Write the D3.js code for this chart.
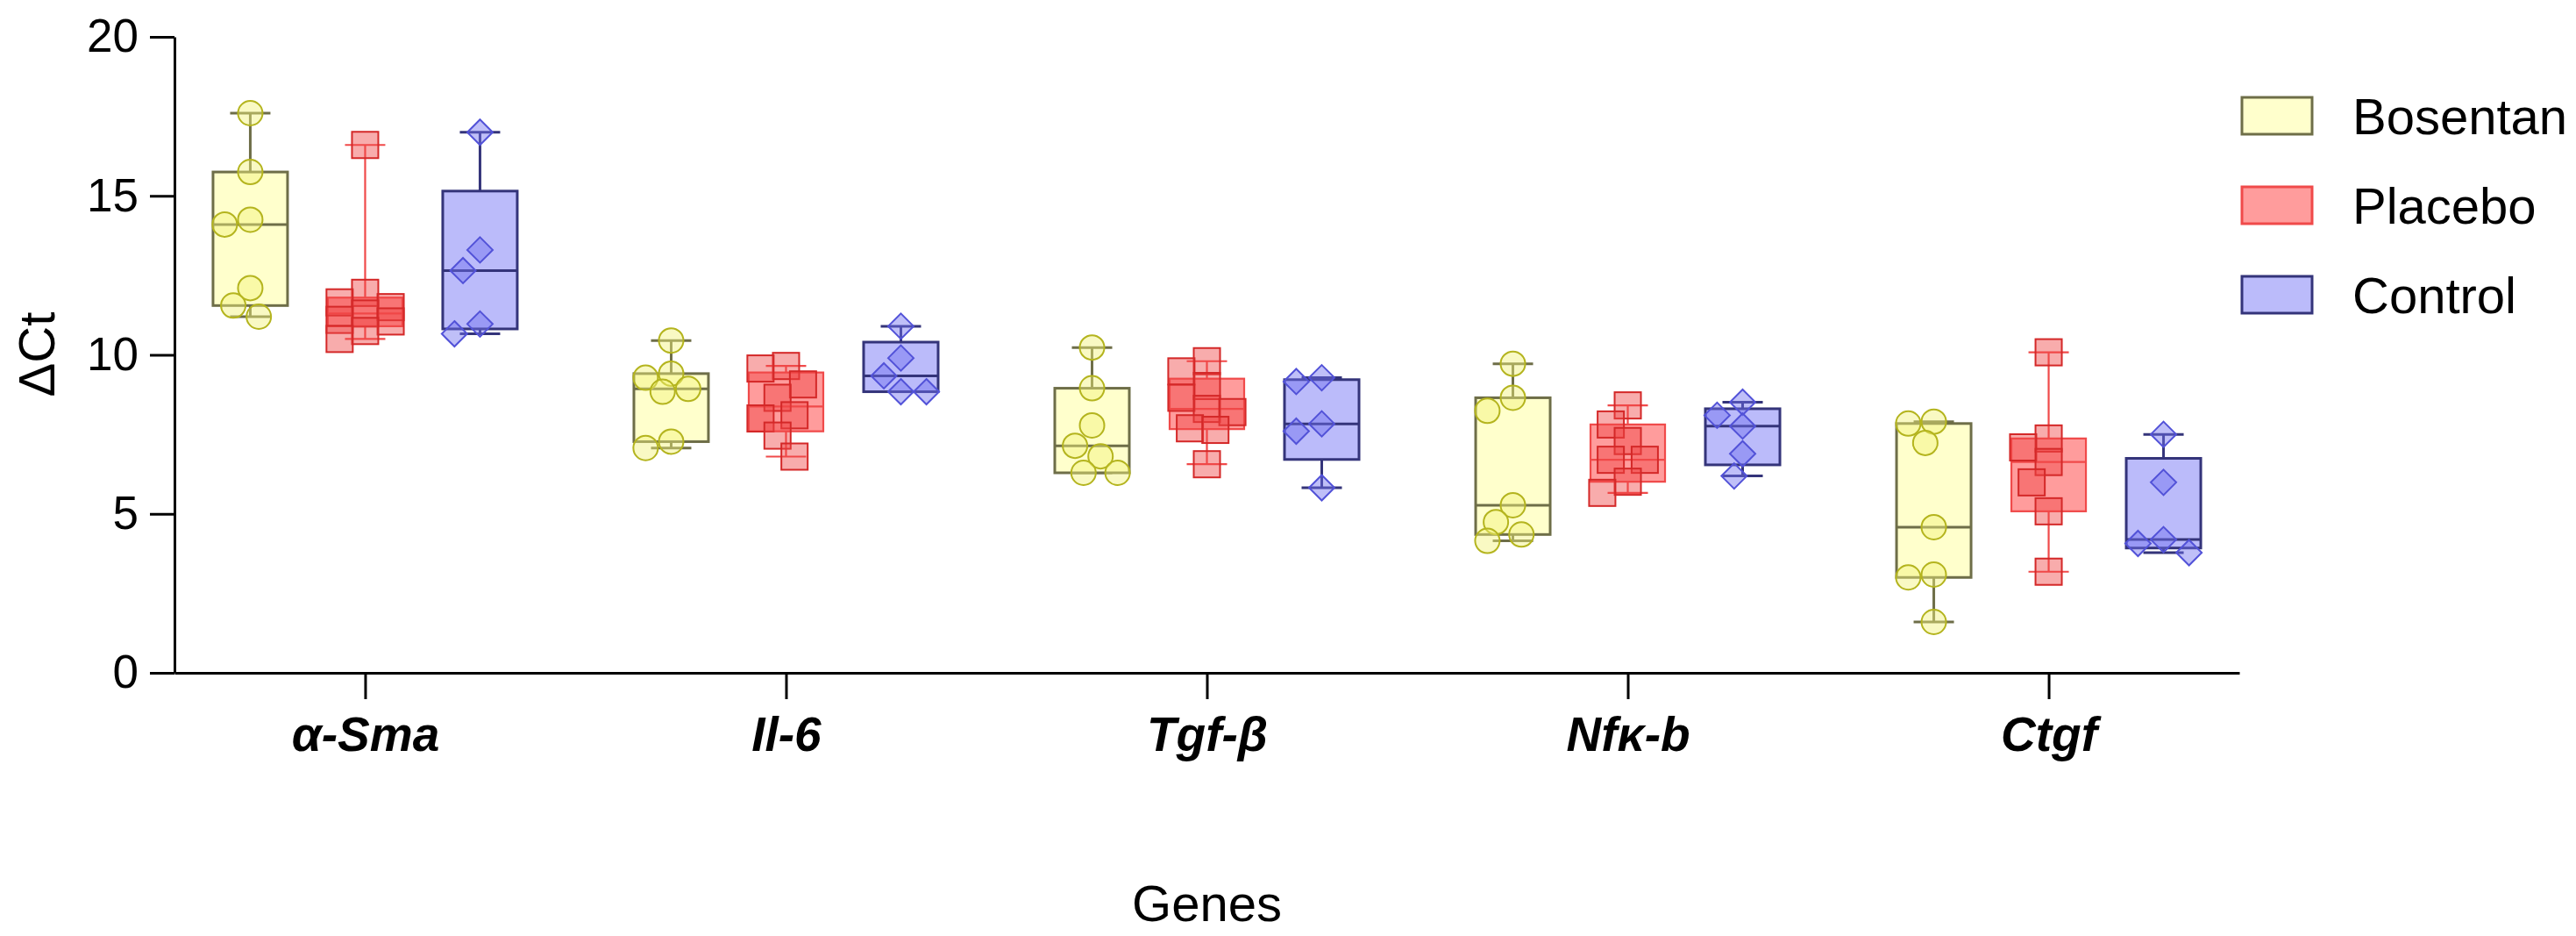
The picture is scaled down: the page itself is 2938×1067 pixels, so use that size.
<!DOCTYPE html>
<html>
<head>
<meta charset="utf-8">
<script src="https://cdn.jsdelivr.net/npm/d3@7"></script>
<style>
    body { margin: 0; background: #fff; }
    text { font-family: "Liberation Sans", Arial, Helvetica, sans-serif; }
</style>
</head>
<body>
<div id="chart-area"></div>
<script>
// genes on the x axis
var genes = ["α-Sma", "Il-6", "Tgf-β", "Nfκ-b", "Ctgf"];
var groups = ["Bosentan", "Placebo", "Control"];
var yTicks = [0, 5, 10, 15, 20];

// ΔCt values per gene (same order as genes)
var bosentan = [
    [17.6, 15.75, 14.25, 14.1, 12.1, 11.55, 11.2],
    [10.45, 9.41, 9.28, 8.93, 8.84, 7.27, 7.07],
    [10.23, 8.95, 7.78, 7.14, 6.81, 6.29, 6.29],
    [9.72, 8.65, 8.24, 5.27, 4.74, 4.35, 4.15],
    [7.9, 7.84, 7.23, 4.58, 3.09, 3.0, 1.6]
];
var placebo = [
    [16.6, 11.95, 11.65, 11.5, 11.3, 11.1, 11.05, 10.75, 10.5],
    [9.65, 9.57, 9.07, 8.65, 8.1, 8.0, 7.46, 6.8],
    [9.8, 9.48, 9.02, 8.65, 8.3, 8.2, 7.69, 7.64, 6.56],
    [8.41, 7.81, 7.29, 6.7, 6.7, 6.01, 5.66],
    [10.08, 7.37, 7.09, 6.63, 5.99, 5.08, 3.18]
];
var control = [
    [17.0, 13.3, 12.65, 10.97, 10.66],
    [10.9, 9.9, 9.34, 8.84, 8.84],
    [9.28, 9.16, 7.83, 7.6, 5.82],
    [8.51, 8.1, 7.76, 6.89, 6.19],
    [7.5, 5.99, 4.19, 4.07, 3.78]
];

var seriesData = [bosentan, placebo, control];

var styles = [
    { boxFill: "#ffffcc", boxStroke: "#6e6e48", lineW: 3, mStroke: "#b4b41e", mFill: "#f2f27a", shape: "circle" },
    { boxFill: "#ff9c9c", boxStroke: "#f04a4a", lineW: 2.2, mStroke: "#d42828", mFill: "#f04848", shape: "square" },
    { boxFill: "#bbbbfa", boxStroke: "#34347a", lineW: 3, mStroke: "#5252d8", mFill: "#7070f0", shape: "diamond" }
];

var W = 2938, H = 1067;

var svg = d3.select("#chart-area")
    .append("svg")
        .attr("width", W)
        .attr("height", H);

var x = d3.scalePoint()
    .domain(genes)
    .range([199, 2554])
    .padding(0.453);

var offset = d3.scalePoint()
    .domain(groups)
    .range([-131, 131]);

var y = d3.scaleLinear()
    .domain([0, 20])
    .range([767, 42]);

var boxW = 85;

// quartiles the way Prism computes them
function quant(sorted, p) {
    var n = sorted.length;
    var pos = p * (n + 1);
    if (pos <= 1) return sorted[0];
    if (pos >= n) return sorted[n - 1];
    var lo = Math.floor(pos), f = pos - lo;
    return sorted[lo - 1] + f * (sorted[lo] - sorted[lo - 1]);
}

// simple scatter spread so points don't sit right on top of each other
function spread(vals, minD, step) {
    var order = vals.slice().sort(function(a, b){ return b - a; });
    var placed = [];
    var ks = [0, -1, 1, -2, 2, -3, 3];
    order.forEach(function(v) {
        var py = y(v), best = null, bestCost = Infinity;
        for (var i = 0; i < ks.length; i++) {
            var dx = ks[i] * step, cost = 0;
            placed.forEach(function(p) {
                var d = Math.sqrt((p.dx - dx) * (p.dx - dx) + (p.py - py) * (p.py - py));
                if (d < minD) cost += (minD - d);
            });
            if (cost < bestCost - 0.01) { bestCost = cost; best = dx; }
            if (cost === 0) break;
        }
        placed.push({ v: v, dx: best, py: py });
    });
    return placed;
}

var plot = svg.append("g");

genes.forEach(function(gene, gi) {
    groups.forEach(function(grp, si) {
        var st = styles[si];
        var vals = seriesData[si][gi];
        var s = vals.slice().sort(d3.ascending);
        var cx = x(gene) + offset(grp);
        var q1 = quant(s, 0.25), med = quant(s, 0.5), q3 = quant(s, 0.75);
        var lo = s[0], hi = s[s.length - 1];
        var g = plot.append("g");

        // whiskers
        g.append("line")
            .attr("x1", cx).attr("x2", cx)
            .attr("y1", y(hi)).attr("y2", y(q3))
            .attr("stroke", st.boxStroke).attr("stroke-width", st.lineW);
        g.append("line")
            .attr("x1", cx).attr("x2", cx)
            .attr("y1", y(q1)).attr("y2", y(lo))
            .attr("stroke", st.boxStroke).attr("stroke-width", st.lineW);
        [hi, lo].forEach(function(v) {
            g.append("line")
                .attr("x1", cx - 23).attr("x2", cx + 23)
                .attr("y1", y(v)).attr("y2", y(v))
                .attr("stroke", st.boxStroke).attr("stroke-width", st.lineW);
        });

        // box + median
        g.append("rect")
            .attr("x", cx - boxW / 2)
            .attr("y", y(q3))
            .attr("width", boxW)
            .attr("height", y(q1) - y(q3))
            .attr("fill", st.boxFill)
            .attr("stroke", st.boxStroke)
            .attr("stroke-width", st.lineW);
        g.append("line")
            .attr("x1", cx - boxW / 2).attr("x2", cx + boxW / 2)
            .attr("y1", y(med)).attr("y2", y(med))
            .attr("stroke", st.boxStroke).attr("stroke-width", st.lineW);

        // points
        var pts = spread(vals, 26, 9.7);
        var enter = g.selectAll(".pt").data(pts).enter();
        var marks;
        if (st.shape == "circle") {
            marks = enter.append("circle")
                .attr("cx", function(d){ return cx + d.dx; })
                .attr("cy", function(d){ return y(d.v); })
                .attr("r", 14);
        } else if (st.shape == "square") {
            marks = enter.append("rect")
                .attr("x", function(d){ return cx + d.dx - 15; })
                .attr("y", function(d){ return y(d.v) - 15; })
                .attr("width", 30).attr("height", 30);
        } else {
            marks = enter.append("path")
                .attr("d", function(d){
                    var px = cx + d.dx, py = y(d.v), r = 14.5;
                    return "M" + px + "," + (py - r) + "L" + (px + r) + "," + py +
                        "L" + px + "," + (py + r) + "L" + (px - r) + "," + py + "Z";
                });
        }
        marks
            .attr("class", "pt")
            .attr("fill", st.mFill)
            .attr("fill-opacity", 0.45)
            .attr("stroke", st.mStroke)
            .attr("stroke-width", 2);
    });
});

// y axis
var yAxisCall = d3.axisLeft(y)
    .tickValues(yTicks)
    .tickSize(28)
    .tickSizeOuter(0)
    .tickPadding(13);

var yAxis = svg.append("g")
    .attr("class", "y axis")
    .attr("transform", "translate(199,0)")
    .call(yAxisCall);
yAxis.select(".domain").attr("stroke", "#000").attr("stroke-width", 3);
yAxis.selectAll(".tick line").attr("stroke", "#000").attr("stroke-width", 3);
yAxis.selectAll("text")
    .attr("font-size", "53px")
    .attr("fill", "#000")
    .attr("font-family", "'Liberation Sans', Arial, sans-serif");

// x axis
var xAxisCall = d3.axisBottom(x)
    .tickSize(30)
    .tickSizeOuter(0)
    .tickPadding(20);

var xAxis = svg.append("g")
    .attr("class", "x axis")
    .attr("transform", "translate(0,767)")
    .call(xAxisCall);
xAxis.select(".domain").attr("stroke", "#000").attr("stroke-width", 3);
xAxis.selectAll(".tick line").attr("stroke", "#000").attr("stroke-width", 3);
xAxis.selectAll("text")
    .attr("font-size", "55px")
    .attr("font-weight", "bold")
    .attr("font-style", "italic")
    .attr("fill", "#000")
    .attr("font-family", "'Liberation Sans', Arial, sans-serif");

// axis titles
svg.append("text")
    .attr("transform", "translate(62,404) rotate(-90)")
    .attr("text-anchor", "middle")
    .attr("font-size", "58px")
    .text("ΔCt");

svg.append("text")
    .attr("x", x(genes[2]))
    .attr("y", 1050)
    .attr("text-anchor", "middle")
    .attr("font-size", "58px")
    .text("Genes");

// legend
var legend = svg.append("g").attr("transform", "translate(2557,111)");
groups.forEach(function(grp, i) {
    var st = styles[i];
    legend.append("rect")
        .attr("x", 0)
        .attr("y", i * 102)
        .attr("width", 80)
        .attr("height", 42)
        .attr("fill", st.boxFill)
        .attr("stroke", st.boxStroke)
        .attr("stroke-width", 3);
    legend.append("text")
        .attr("x", 126)
        .attr("y", i * 102 + 42)
        .attr("font-size", "58px")
        .text(grp);
});
</script>
</body>
</html>
